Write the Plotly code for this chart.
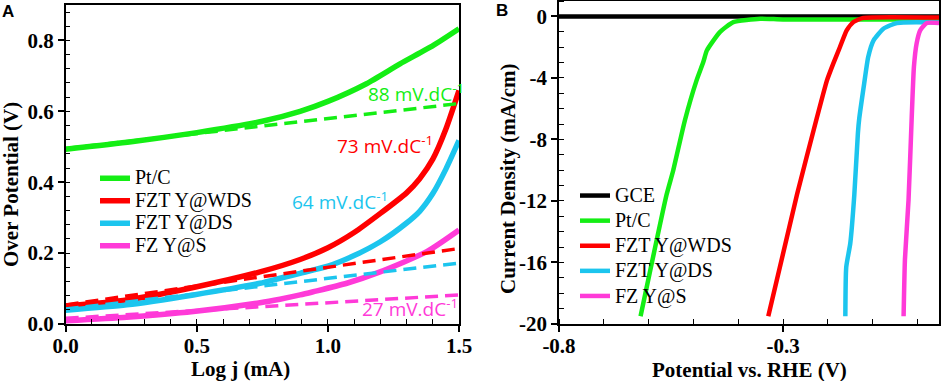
import plotly.graph_objects as go

# ---------------- Panel A : Tafel plots ----------------
series_names = ["Pt/C", "FZT Y@WDS", "FZT Y@DS", "FZ Y@S"]

a_x_ptc = [0.0, 0.25, 0.5, 0.75, 0.894, 1.0, 1.147, 1.275, 1.402, 1.5]
a_y_ptc = [0.493, 0.514, 0.540, 0.572, 0.600, 0.628, 0.678, 0.734, 0.786, 0.833]

a_x_wds = [0.0, 0.233, 0.487, 0.741, 0.894, 1.0, 1.1, 1.2, 1.3, 1.35, 1.4, 1.45, 1.5]
a_y_wds = [0.051, 0.068, 0.103, 0.147, 0.182, 0.215, 0.258, 0.312, 0.370, 0.410, 0.465, 0.550, 0.659]

a_x_ds = [0.0, 0.233, 0.487, 0.741, 0.817, 0.894, 1.0, 1.1, 1.2, 1.3, 1.35, 1.4, 1.45, 1.5]
a_y_ds = [0.039, 0.054, 0.082, 0.115, 0.129, 0.143, 0.163, 0.193, 0.232, 0.285, 0.318, 0.368, 0.437, 0.518]

a_x_s = [0.0, 0.233, 0.487, 0.741, 0.817, 0.894, 0.944, 1.072, 1.199, 1.377, 1.5]
a_y_s = [0.009, 0.019, 0.035, 0.060, 0.070, 0.082, 0.091, 0.115, 0.147, 0.204, 0.265]

# linear Tafel fits (dashed)
fit_x = [0.0, 1.5]
fit_y_ptc = [0.495, 0.622]
fit_y_wds = [0.054, 0.213]
fit_y_ds = [0.042, 0.172]
fit_y_s = [0.016, 0.082]

slope_labels = ["88 mV.dC<sup>-1</sup>", "73 mV.dC<sup>-1</sup>", "64 mV.dC<sup>-1</sup>", "27 mV.dC<sup>-1</sup>"]
slope_label_x = [1.147, 1.027, 0.855, 1.122]
slope_label_y = [0.652, 0.505, 0.348, 0.046]

a_xticks = [0.0, 0.5, 1.0, 1.5]
a_yticks = [0.0, 0.2, 0.4, 0.6, 0.8]

# ---------------- Panel B : LSV polarization curves ----------------
b_names = ["GCE", "Pt/C", "FZT Y@WDS", "FZT Y@DS", "FZ Y@S"]

b_x_gce = [-0.8, 0.048]
b_y_gce = [0.0, 0.0]

b_x_ptc = [-0.618, -0.560, -0.545, -0.519, -0.493, -0.478, -0.470, -0.441, -0.411, -0.351, -0.30, 0.048]
b_y_ptc = [-19.5, -11.6, -10.0, -6.75, -4.16, -2.97, -2.21, -1.02, -0.37, -0.15, -0.2, -0.2]

b_x_wds = [-0.333, -0.269, -0.225, -0.202, -0.188, -0.173, -0.158, -0.143, -0.121, 0.048]
b_y_wds = [-19.5, -11.6, -6.64, -4.16, -3.07, -1.99, -0.91, -0.37, -0.10, -0.08]

b_x_ds = [-0.161, -0.159, -0.150, -0.141, -0.133, -0.130, -0.119, -0.110, -0.098, -0.076, -0.046, 0.048]
b_y_ds = [-19.5, -16.3, -14.76, -11.6, -7.6, -6.64, -4.37, -2.64, -1.56, -0.80, -0.43, -0.40]

b_x_s = [-0.031, -0.028, -0.020, -0.013, -0.008, -0.002, 0.006, 0.021, 0.048]
b_y_s = [-19.5, -15.8, -11.95, -6.64, -3.29, -1.77, -0.91, -0.43, -0.43]

b_xticks = [-0.8, -0.3]
b_xticktext = ["-0.8", "-0.3"]
b_yticks = [0, -4, -8, -12, -16, -20]
b_yticktext = ["0", "-4", "-8", "-12", "-16", "-20"]

# ---------------- styling ----------------
GREEN = "#14EE14"
RED = "#FF0000"
CYAN = "#1CC5EE"
MAGENTA = "#FF3AD8"
BLACK = "#000000"

W, H = 941, 381
def PX(v):
    return v / W
def PY(v):
    return 1 - v / H

SERIF = "Liberation Serif, Times New Roman, serif"
SANS = "Open Sans, sans-serif"

fig = go.Figure()

def lname(t):
    return '<span style="font-size:20px">' + t + '</span>'

a_cols = [GREEN, RED, CYAN, MAGENTA]
a_xs = [a_x_ptc, a_x_wds, a_x_ds, a_x_s]
a_ys = [a_y_ptc, a_y_wds, a_y_ds, a_y_s]
a_fits = [fit_y_ptc, fit_y_wds, fit_y_ds, fit_y_s]

for name, xs, ys, c in zip(series_names, a_xs, a_ys, a_cols):
    fig.add_trace(go.Scatter(x=xs, y=ys, mode="lines", name=lname(name),
                             line=dict(color=c, width=5.5, shape="spline", smoothing=0.6),
                             xaxis="x", yaxis="y", legend="legend"))
for fy, c in zip(a_fits, a_cols):
    fig.add_trace(go.Scatter(x=fit_x, y=fy, mode="lines", showlegend=False,
                             line=dict(color=c, width=3.5, dash="13px,7px"),
                             xaxis="x", yaxis="y"))

b_cols = [BLACK, GREEN, RED, CYAN, MAGENTA]
b_xs = [b_x_gce, b_x_ptc, b_x_wds, b_x_ds, b_x_s]
b_ys = [b_y_gce, b_y_ptc, b_y_wds, b_y_ds, b_y_s]
for name, xs, ys, c in zip(b_names, b_xs, b_ys, b_cols):
    fig.add_trace(go.Scatter(x=xs, y=ys, mode="lines", name=lname(name),
                             line=dict(color=c, width=4.5, shape="spline", smoothing=0.5),
                             xaxis="x2", yaxis="y2", legend="legend2"))

tickfont = dict(family=SERIF, size=21, color="black", weight="bold")
common = dict(showline=True, linecolor="black", linewidth=1.5, mirror=True,
              ticks="outside", ticklen=6, tickwidth=1.5, tickcolor="black",
              showgrid=False, zeroline=False, tickfont=tickfont, automargin=False)
minor_common = dict(ticks="inside", ticklen=5, tickwidth=1.3, tickcolor="black")
# overlay axes that add the inner half of the major ticks (crossing ticks)
cross = dict(showline=False, showgrid=False, zeroline=False, showticklabels=False,
             ticks="inside", ticklen=5, tickwidth=1.5, tickcolor="black", automargin=False)

fig.update_layout(
    width=W, height=H,
    margin=dict(l=0, r=0, t=0, b=0, autoexpand=False),
    paper_bgcolor="white", plot_bgcolor="white",
    xaxis=dict(domain=[PX(65.7), PX(459)], range=[0, 1.5], anchor="y",
               tickvals=a_xticks, tickformat=".1f", ticklabelstandoff=-4,
               minor=dict(dtick=0.1, tick0=0, **minor_common), **common),
    yaxis=dict(domain=[PY(324), PY(5)], range=[0, 0.9], anchor="x",
               tickvals=a_yticks, tickformat=".1f",
               minor=dict(dtick=0.04, tick0=0, **minor_common), **common),
    xaxis2=dict(domain=[PX(559), PX(939)], range=[-0.8, 0.048], anchor="y2",
                tickvals=b_xticks, ticktext=b_xticktext, ticklabelstandoff=-4,
                minor=dict(dtick=0.1, tick0=-0.8, **minor_common), **common),
    yaxis2=dict(domain=[PY(324), PY(1)], range=[-20, 1], anchor="x2",
                tickvals=b_yticks, ticktext=b_yticktext,
                minor=dict(dtick=1, tick0=0, **minor_common), **common),
    xaxis3=dict(overlaying="x", anchor="y", side="bottom", range=[0, 1.5], tickvals=a_xticks, **cross),
    yaxis3=dict(overlaying="y", anchor="x", side="left", range=[0, 0.9], tickvals=a_yticks, **cross),
    xaxis4=dict(overlaying="x2", anchor="y2", side="bottom", range=[-0.8, 0.048], tickvals=b_xticks, **cross),
    yaxis4=dict(overlaying="y2", anchor="x2", side="left", range=[-20, 1], tickvals=b_yticks, **cross),
    legend=dict(x=PX(95), y=PY(162), xanchor="left", yanchor="top",
                bgcolor="rgba(0,0,0,0)", borderwidth=0,
                font=dict(family=SERIF, size=15, color="black")),
    legend2=dict(x=PX(575), y=PY(178), xanchor="left", yanchor="top",
                 bgcolor="rgba(0,0,0,0)", borderwidth=0,
                 font=dict(family=SERIF, size=17, color="black")),
    showlegend=True,
)

ann = []
for t, x, y, c in zip(slope_labels, slope_label_x, slope_label_y, a_cols):
    ann.append(dict(text=t, x=x, y=y, xref="x", yref="y", xanchor="left", yanchor="middle",
                    showarrow=False, font=dict(family=SANS, size=19, color=c)))

title_font = dict(family=SERIF, size=21, color="black", weight="bold")
ann += [
    dict(text="Over Potential (V)", x=PX(11), y=PY(185), xref="paper", yref="paper", textangle=-90,
         showarrow=False, font=title_font, xanchor="center", yanchor="middle"),
    dict(text="Log j (mA)", x=PX(240), y=PY(369), xref="paper", yref="paper",
         showarrow=False, font=title_font, xanchor="center", yanchor="middle"),
    dict(text="Current Density (mA/cm)", x=PX(508), y=PY(178), xref="paper", yref="paper", textangle=-90,
         showarrow=False, font=title_font, xanchor="center", yanchor="middle"),
    dict(text="Potential vs. RHE (V)", x=PX(749), y=PY(370), xref="paper", yref="paper",
         showarrow=False, font=title_font, xanchor="center", yanchor="middle"),
    dict(text="A", x=PX(0), y=PY(12), xref="paper", yref="paper", xanchor="left", yanchor="middle",
         showarrow=False, font=dict(family="Liberation Sans, Arial", size=17, color="black", weight="bold")),
    dict(text="B", x=PX(494), y=PY(11), xref="paper", yref="paper", xanchor="left", yanchor="middle",
         showarrow=False, font=dict(family="Liberation Sans, Arial", size=17, color="black", weight="bold")),
]
fig.update_layout(annotations=ann)

# remove the browser's default page margin so the 941x381 figure fills the window exactly
fig.write_html("out.html", config={"displayModeBar": False},
               post_script="document.body.style.margin='0';document.body.style.overflow='hidden';")
